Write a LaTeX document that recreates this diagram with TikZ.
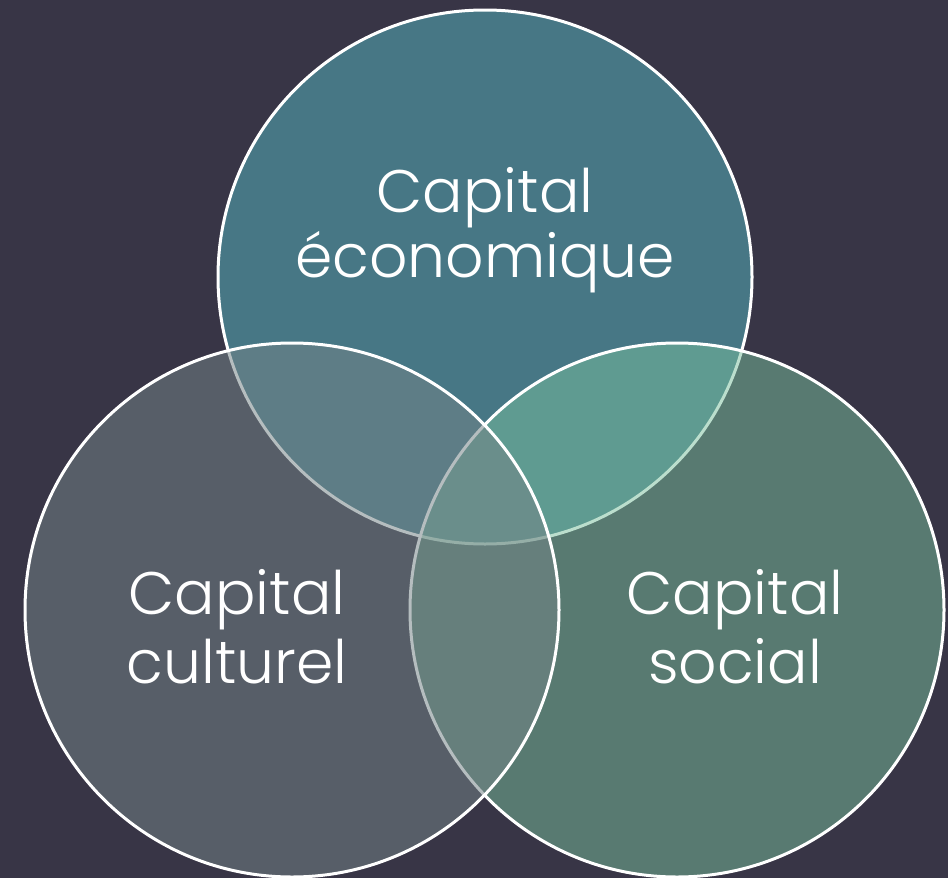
\documentclass[tikz,border=0pt]{standalone}
\usepackage{fontspec}
\setmainfont{Poppins}[UprightFont=* Light]
\definecolor{bgcol}{RGB}{56,53,70}
\definecolor{topcol}{RGB}{71,119,133}
\definecolor{rightcol}{RGB}{120,191,157}
\definecolor{leftcol}{RGB}{116,132,135}
\begin{document}
\begin{tikzpicture}[x=1pt,y=-1pt,
  venn/.style={draw=white,line width=3pt},
  lbl/.style={text=white,inner sep=0pt,anchor=base,font=\fontsize{60}{66}\selectfont}]
\fill[bgcol] (0,0) rectangle (948,878);
\useasboundingbox (0,0) rectangle (948,878);
\path[venn,fill=topcol] (485,277) circle[radius=267];
\path[venn,fill=rightcol,fill opacity=0.5] (677,610) circle[radius=267];
\path[venn,fill=leftcol,fill opacity=0.53] (292,610) circle[radius=267];
\node[lbl] (eco1) at (485,212) {Capital};
\node[lbl] (eco2) at (485,277) {économique};
\node[lbl] (cul1) at (237,614) {Capital};
\node[lbl] (cul2) at (237,683) {culturel};
\node[lbl] (soc1) at (735,614) {Capital};
\node[lbl] (soc2) at (735,683) {social};
\end{tikzpicture}
\end{document}
